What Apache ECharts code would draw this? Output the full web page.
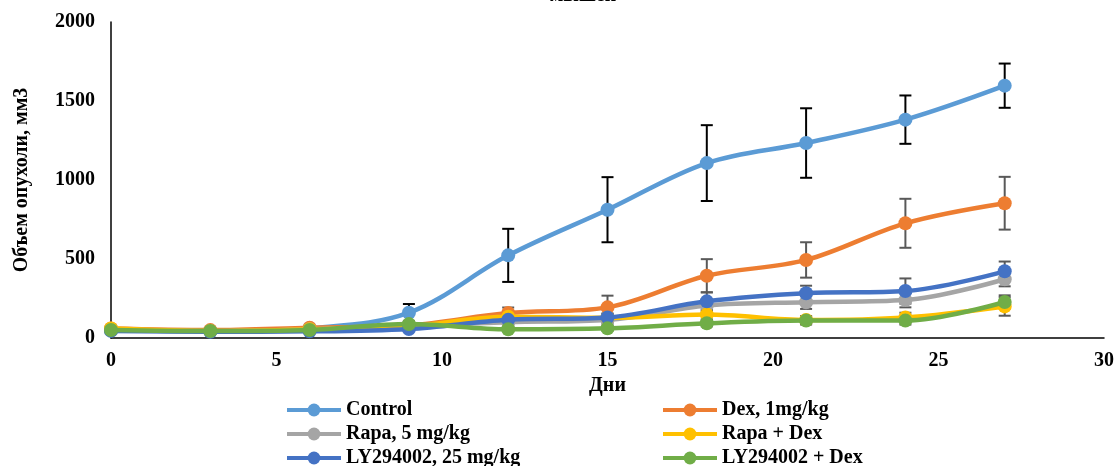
<!DOCTYPE html>
<html>
<head>
<meta charset="utf-8">
<script src="https://cdn.jsdelivr.net/npm/echarts@6/dist/echarts.min.js"></script>
<style>
  html, body { margin: 0; padding: 0; background: #fff; }
  #chart { width: 1120px; height: 466px; }
</style>
</head>
<body>
<div id="chart"></div>
<script>
// Tumour volume (mm3) by day for each treatment group, with ± error
const days = [0, 3, 6, 9, 12, 15, 18, 21, 24, 27];

const control    = [50, 42, 62, 160, 523, 812, 1107, 1234, 1382, 1597];
const controlErr = [8, 8, 10, 55, 168, 206, 240, 220, 153, 140];

const dex    = [60, 50, 65, 80, 158, 194, 394, 494, 726, 853];
const dexErr = [8, 8, 10, 15, 35, 74, 105, 112, 155, 167];

const rapa    = [55, 45, 55, 75, 100, 114, 205, 226, 240, 372];
const rapaErr = [8, 8, 10, 15, 20, 25, 40, 42, 46, 45];

const rapaDex    = [60, 45, 55, 75, 135, 128, 148, 114, 130, 200];
const rapaDexErr = [8, 8, 10, 15, 20, 25, 30, 25, 30, 59];

const ly    = [45, 40, 42, 57, 115, 130, 232, 283, 297, 422];
const lyErr = [8, 8, 10, 12, 20, 25, 57, 48, 80, 62];

const lyDex    = [51, 44, 51, 88, 55, 61, 93, 110, 110, 228];
const lyDexErr = [8, 8, 10, 12, 12, 15, 20, 25, 25, 42];

const groups = [
  { name: 'Control',            values: control, err: controlErr, color: '#5B9BD5', errColor: '#000000' },
  { name: 'Dex, 1mg/kg',        values: dex,     err: dexErr,     color: '#ED7D31', errColor: '#595959' },
  { name: 'Rapa, 5 mg/kg',      values: rapa,    err: rapaErr,    color: '#A5A5A5', errColor: '#595959' },
  { name: 'Rapa + Dex',         values: rapaDex, err: rapaDexErr, color: '#FFC000', errColor: '#595959' },
  { name: 'LY294002, 25 mg/kg', values: ly,      err: lyErr,      color: '#4472C4', errColor: '#595959' },
  { name: 'LY294002 + Dex',     values: lyDex,   err: lyDexErr,   color: '#70AD47', errColor: '#595959' }
];

const FONT = '"Liberation Serif", "Times New Roman", serif';

function errorBarRenderer(color) {
  return function (params, api) {
    const x = api.value(0);
    const lo = api.coord([x, api.value(1)]);
    const hi = api.coord([x, api.value(2)]);
    const half = 6;
    const style = { stroke: color, lineWidth: 2 };
    return {
      type: 'group',
      children: [
        { type: 'line', shape: { x1: lo[0], y1: lo[1], x2: hi[0], y2: hi[1] }, style },
        { type: 'line', shape: { x1: hi[0] - half, y1: hi[1], x2: hi[0] + half, y2: hi[1] }, style },
        { type: 'line', shape: { x1: lo[0] - half, y1: lo[1], x2: lo[0] + half, y2: lo[1] }, style }
      ]
    };
  };
}

const series = [];
groups.forEach(function (g, i) {
  series.push({
    name: g.name + ' err',
    type: 'custom',
    renderItem: errorBarRenderer(g.errColor),
    data: days.map(function (d, k) { return [d, g.values[k] - g.err[k], g.values[k] + g.err[k]]; }),
    z: 1 + i * 2,
    silent: true
  });
});
groups.forEach(function (g, i) {
  series.push({
    name: g.name,
    type: 'line',
    data: days.map(function (d, k) { return [d, g.values[k]]; }),
    smooth: 0.35,
    symbol: 'circle',
    symbolSize: 14,
    color: g.color,
    lineStyle: { width: 4.5, color: g.color },
    itemStyle: { color: g.color },
    z: 20 + i
  });
});

// Legend: two columns, three rows, one legend block per entry
const legendText = { fontFamily: FONT, fontWeight: 'bold', fontSize: 20, color: '#000', lineHeight: 20 };
const legendCols = [285, 661];
const legendRows = [400, 424, 448];
const legends = groups.map(function (g, i) {
  return {
    left: legendCols[i % 2],
    top: legendRows[Math.floor(i / 2)],
    padding: 0,
    itemWidth: 54,
    itemHeight: 16,
    itemGap: 4,
    lineStyle: { width: 4 },
    textStyle: legendText,
    data: [g.name]
  };
});

const chart = echarts.init(document.getElementById('chart'), null, { renderer: 'canvas' });

chart.setOption({
  animation: false,
  backgroundColor: '#ffffff',
  grid: { left: 111, right: 16, top: 22, bottom: 128, containLabel: false },
  graphic: [{
    type: 'text',
    x: 583,
    y: 6,
    style: {
      text: 'мышей',
      fontFamily: FONT,
      fontWeight: 'bold',
      fontSize: 20,
      fill: '#000',
      align: 'center',
      verticalAlign: 'bottom'
    }
  }],
  legend: legends,
  xAxis: {
    type: 'value',
    min: 0,
    max: 30,
    interval: 5,
    name: 'Дни',
    nameLocation: 'middle',
    nameGap: 29,
    nameTextStyle: { fontFamily: FONT, fontWeight: 'bold', fontSize: 20, color: '#000' },
    axisLine: { show: true, lineStyle: { color: '#000', width: 1.5 } },
    axisTick: { show: false },
    splitLine: { show: false },
    axisLabel: { margin: 13, fontFamily: FONT, fontWeight: 'bold', fontSize: 20, color: '#000' }
  },
  yAxis: {
    type: 'value',
    min: 0,
    max: 2000,
    interval: 500,
    name: 'Объем опухоли, мм3',
    nameLocation: 'middle',
    nameGap: 79,
    nameRotate: 90,
    nameTextStyle: { fontFamily: FONT, fontWeight: 'bold', fontSize: 20, color: '#000' },
    axisLine: { show: true, lineStyle: { color: '#000', width: 1.5 } },
    axisTick: { show: false },
    splitLine: { show: false },
    axisLabel: {
      margin: 16, fontFamily: FONT, fontWeight: 'bold', fontSize: 20, color: '#000',
      formatter: function (v) { return String(v); }
    }
  },
  series: series
});
</script>
</body>
</html>
